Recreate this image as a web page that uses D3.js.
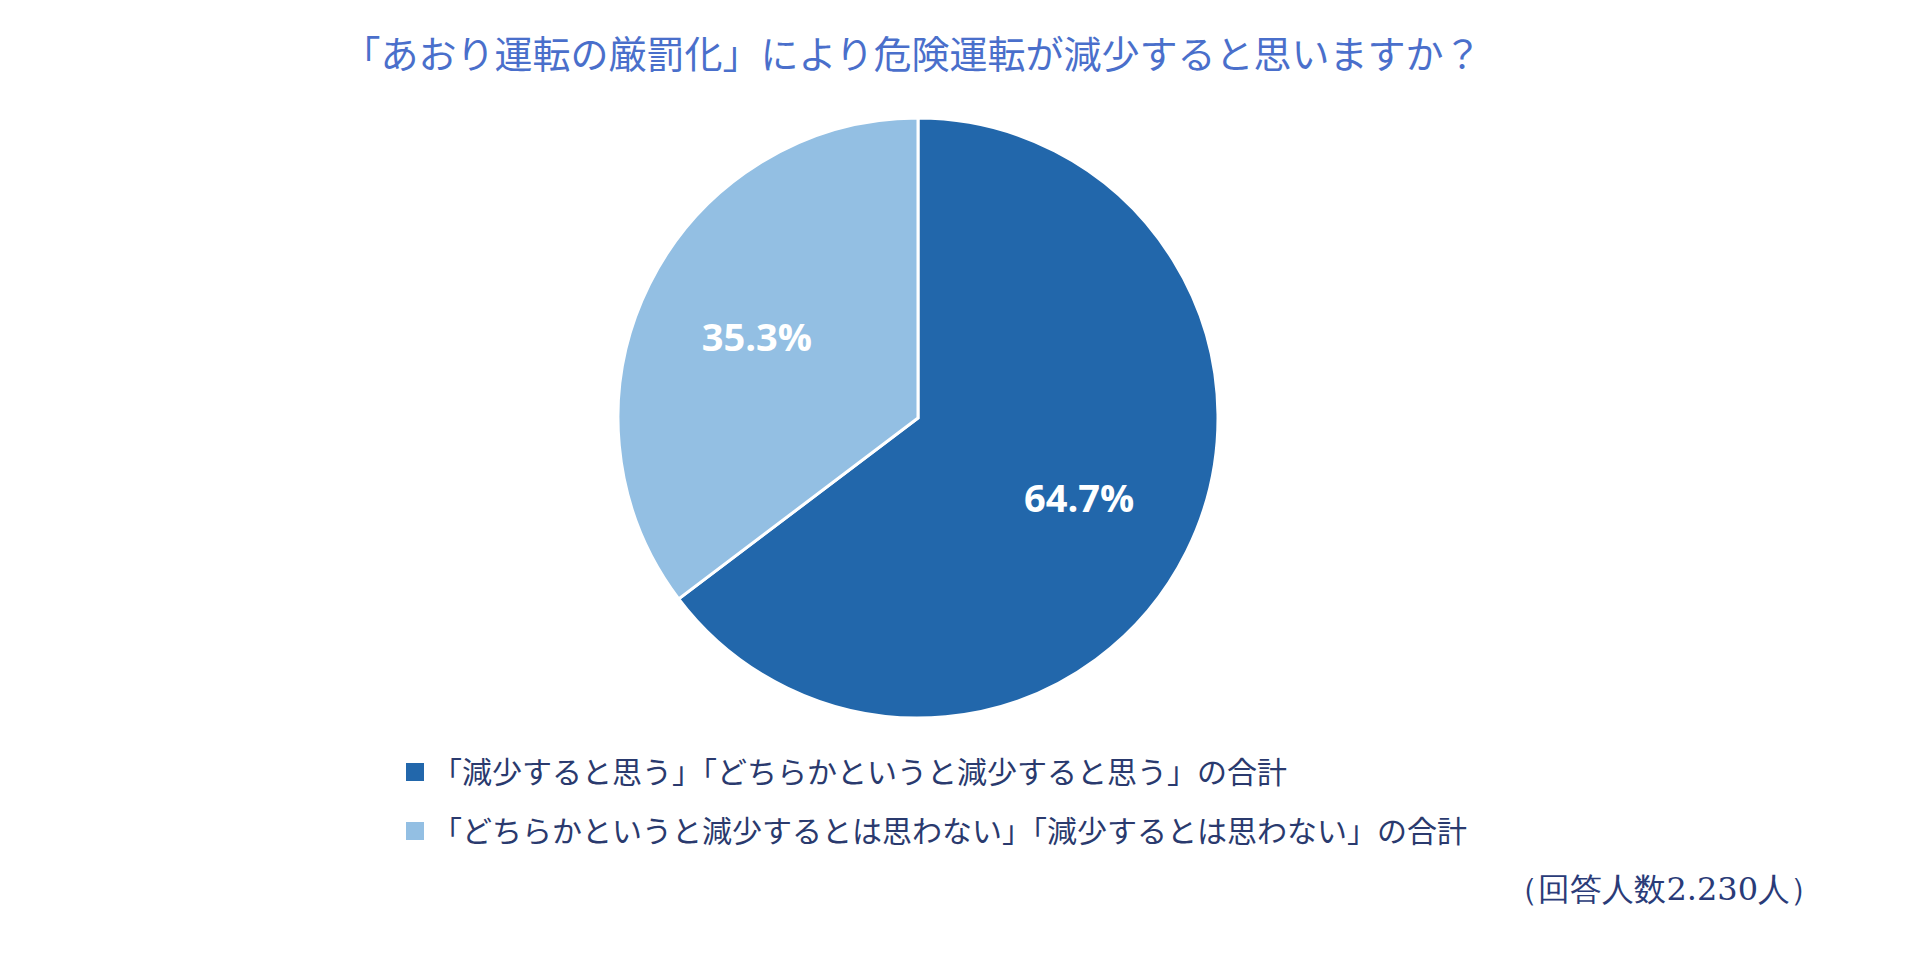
<!DOCTYPE html><html><head><meta charset="utf-8"><script src="https://cdn.jsdelivr.net/npm/d3@7"></script>
<style>body{margin:0;background:#fff}</style></head><body><svg id="c" width="1920" height="980"></svg>
<script>
const categories=["「減少すると思う」「どちらかというと減少すると思う」の合計","「どちらかというと減少するとは思わない」「減少するとは思わない」の合計"];
const values=[64.7,35.3];
const colors=["#2267AB","#93BFE3"];
const svg=d3.select("#c");
const F="'Noto Sans CJK JP','Noto Sans',sans-serif";
svg.append("text").attr("x",912).attr("y",68).attr("text-anchor","middle").attr("font-family",F).attr("font-size",38).attr("fill","#4a6fcb").text("「あおり運転の厳罰化」により危険運転が減少すると思いますか？");
const cx=918,cy=418,r=300;
const pie=d3.pie().sort(null)(values);
const arc=d3.arc().innerRadius(0).outerRadius(r);
const g=svg.append("g").attr("transform",`translate(${cx},${cy})`);
g.selectAll("path").data(pie).join("path").attr("d",arc).attr("fill",(d,i)=>colors[i]).attr("stroke","#fff").attr("stroke-width",3);
const la=d3.arc().innerRadius(r*0.6).outerRadius(r*0.6);
g.selectAll("text").data(pie).join("text").attr("transform",d=>`translate(${la.centroid(d)})`).attr("text-anchor","middle").attr("dy","0.35em").attr("font-family","'Open Sans','Noto Sans',sans-serif").attr("font-weight","bold").attr("font-size",38).attr("fill","#fff").text(d=>d.data.toFixed(1)+"%");
const lg=svg.selectAll(".lg").data(categories).join("g").attr("transform",(d,i)=>`translate(406,${772+i*59})`);
lg.append("rect").attr("x",0).attr("y",-9).attr("width",18).attr("height",18).attr("fill",(d,i)=>colors[i]);
lg.append("text").attr("x",26).attr("dy","0.35em").attr("font-family",F).attr("font-size",30).attr("fill","#2a3a6e").text(d=>d);
svg.append("text").attr("x",1822).attr("y",900).attr("text-anchor","end").attr("font-family","'DejaVu Serif','Liberation Serif',serif").attr("font-size",32).attr("fill","#2a3b78").text("（回答人数2.230人）");
</script></body></html>
